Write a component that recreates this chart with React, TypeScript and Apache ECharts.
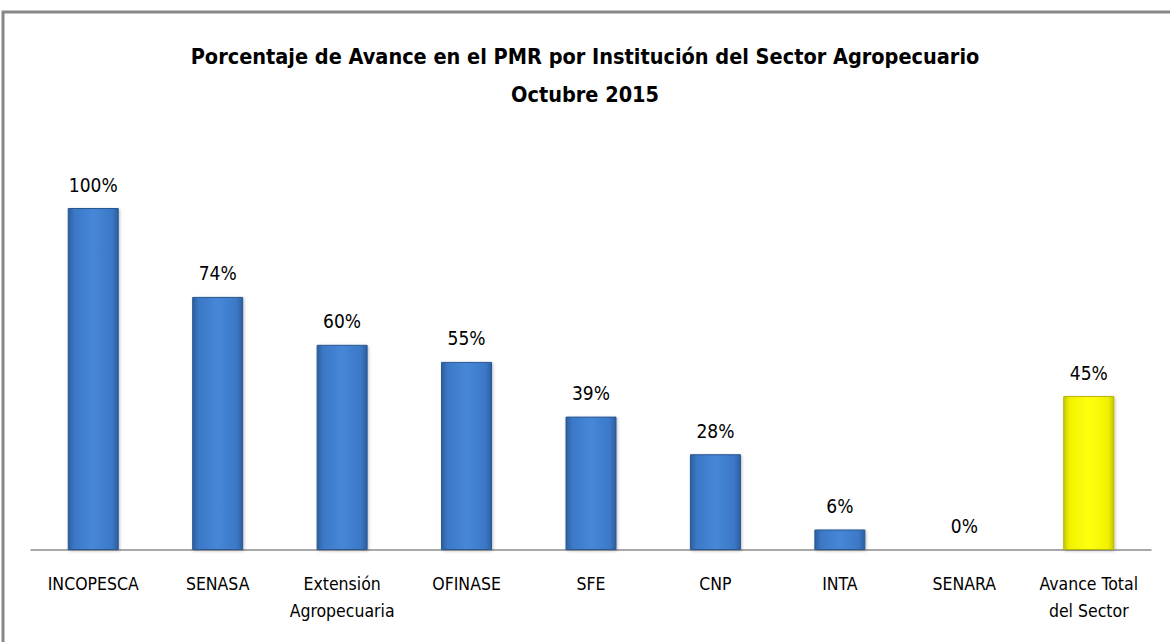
import React, { useEffect, useRef } from "react";
import * as echarts from "echarts";

const categories = [
  "INCOPESCA",
  "SENASA",
  "Extensión\nAgropecuaria",
  "OFINASE",
  "SFE",
  "CNP",
  "INTA",
  "SENARA",
  "Avance Total\ndel Sector",
];
const values = [100, 74, 60, 55, 39, 28, 6, 0, 45];
const titleLines = [
  "Porcentaje de Avance en el PMR por Institución del Sector Agropecuario",
  "Octubre 2015",
];

const FONT = "'DejaVu Sans Condensed', 'Liberation Sans Narrow', sans-serif";

const blueGrad = new echarts.graphic.LinearGradient(0, 0, 1, 0, [
  { offset: 0, color: "#2d5f9f" },
  { offset: 0.12, color: "#3b78c6" },
  { offset: 0.5, color: "#4787d8" },
  { offset: 0.88, color: "#3b78c6" },
  { offset: 1, color: "#2d5f9f" },
]);
const yellowGrad = new echarts.graphic.LinearGradient(0, 0, 1, 0, [
  { offset: 0, color: "#c9c900" },
  { offset: 0.12, color: "#f2f200" },
  { offset: 0.5, color: "#ffff10" },
  { offset: 0.88, color: "#f2f200" },
  { offset: 1, color: "#c9c900" },
]);

export default function App() {
  const ref = useRef<HTMLDivElement>(null);
  useEffect(() => {
    document.body.style.margin = "0";
    const chart = echarts.init(ref.current!, null, { renderer: "svg" });
    chart.setOption({
      animation: false,
      backgroundColor: "#ffffff",
      graphic: [
        {
          type: "rect",
          shape: { x: 3, y: 12, width: 1200, height: 700 },
          style: { fill: "none", stroke: "#878787", lineWidth: 3 },
          silent: true,
        },
      ],
      title: {
        text: titleLines.join("\n"),
        left: 580,
        textAlign: "center",
        top: 32,
        textStyle: {
          fontFamily: FONT,
          fontSize: 21.5,
          fontWeight: "bold",
          color: "#000",
          lineHeight: 38,
        },
      },
      grid: { left: 31, right: 19, top: 208, bottom: 92, containLabel: false },
      xAxis: {
        type: "category",
        data: categories,
        axisLine: { lineStyle: { color: "#8c8c8c", width: 1.5 } },
        axisTick: { show: false },
        axisLabel: {
          interval: 0,
          fontFamily: FONT,
          fontSize: 17.5,
          color: "#000",
          lineHeight: 27,
          margin: 20,
        },
      },
      yAxis: {
        type: "value",
        min: 0,
        max: 100,
        show: false,
        splitLine: { show: false },
      },
      series: [
        {
          type: "bar",
          barWidth: 51,
          data: values.map((v, i) => ({
            value: v,
            itemStyle: {
              color: i === values.length - 1 ? yellowGrad : blueGrad,
              borderColor: i === values.length - 1 ? "#b5b500" : "#2a5791",
              borderWidth: 1,
              shadowColor: "rgba(0,0,0,0.25)",
              shadowBlur: 3,
              shadowOffsetX: 1,
              shadowOffsetY: 1,
            },
          })),
          label: {
            show: true,
            position: "top",
            distance: 14,
            formatter: "{c}%",
            fontFamily: FONT,
            fontSize: 19,
            color: "#000",
          },
        },
      ],
    });
    return () => chart.dispose();
  }, []);
  return (
    <div
      ref={ref}
      style={{ width: 1170, height: 642, position: "absolute", left: 0, top: 0 }}
    />
  );
}
